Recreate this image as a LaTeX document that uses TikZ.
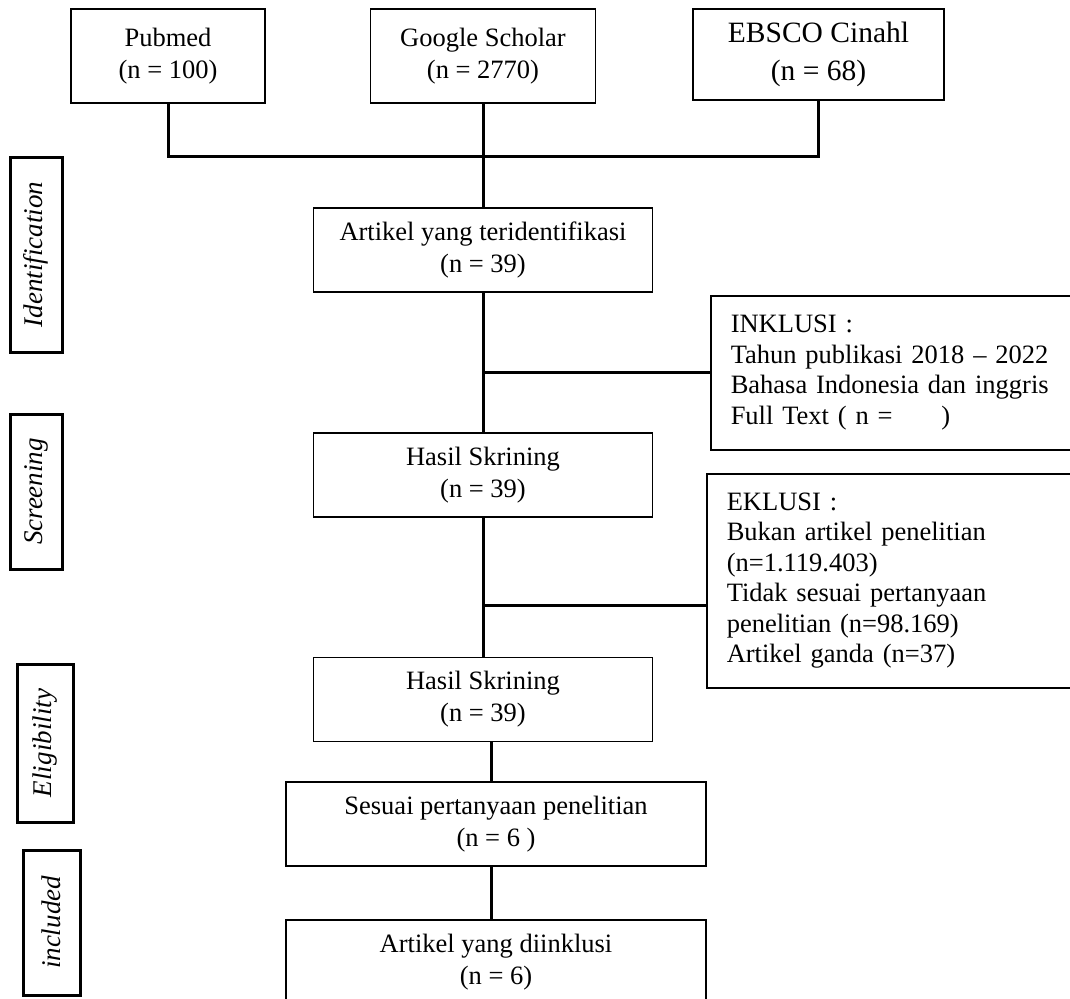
\documentclass[tikz,border=0pt]{standalone}
\usepackage{fontspec}
\setmainfont{Liberation Serif}
\usetikzlibrary{positioning}

\begin{document}
\begin{tikzpicture}[x=1pt,y=-1pt,
	font=\fontsize{26.5}{32}\selectfont,
	box/.style={draw,line width=1.5pt,align=center,inner sep=0pt,minimum height=84pt},
	side/.style={draw,line width=3pt,rotate=90,inner sep=0pt,minimum height=52pt,
		font=\fontsize{27}{32}\selectfont\itshape},
	note/.style={draw,line width=1.5pt,anchor=north west,align=left,inner xsep=20pt,
		text width=330pt,font=\fontsize{26.5}{30.5}\selectfont},
	link/.style={line width=3pt}]
	\useasboundingbox (0,0) rectangle (1070,998);
	% databases
	\node[box,minimum width=194pt,minimum height=94pt] (pubmed) at (168,56) {Pubmed\\(n = 100)};
	\node[box,minimum width=225pt,minimum height=94pt] (google) at (483,56) {Google Scholar\\(n = 2770)};
	\node[box,minimum width=251pt,minimum height=91pt,font=\fontsize{29.5}{38}\selectfont] (ebsco) at (818.5,54.5) {EBSCO Cinahl\\(n = 68)};
	% main column
	\node[box,minimum width=339pt] (ident) at (483,250) {Artikel yang teridentifikasi\\(n = 39)};
	\node[box,minimum width=339pt] (skrin1) at (483,475) {Hasil Skrining\\(n = 39)};
	\node[box,minimum width=339pt] (skrin2) at (483,699.5) {Hasil Skrining\\(n = 39)};
	\node[box,minimum width=420pt] (sesuai) at (496,824) {Sesuai pertanyaan penelitian\\(n = 6 )};
	\node[box,minimum width=420pt] (artikel) at (496,962) {Artikel yang diinklusi\\(n = 6)};
	% criteria
	\node[note,minimum height=154pt] (inklusi) at (710,295) {INKLUSI :\\Tahun publikasi 2018 -- 2022\\Bahasa Indonesia dan inggris\\Full Text ( n = \hspace{40pt})};
	\node[note,minimum height=214pt] (eklusi) at (706,473) {EKLUSI :\\Bukan artikel penelitian\\(n=1.119.403)\\Tidak sesuai pertanyaan\\penelitian (n=98.169)\\Artikel ganda (n=37)};
	% stages
	\node[side,minimum width=195pt] (idlab) at (36,254.5) {Identification};
	\node[side,minimum width=155pt] (sclab) at (36,491.5) {Screening};
	\node[side,minimum width=158pt,minimum height=56pt] (ellab) at (45,743) {Eligibility};
	\node[side,minimum width=145pt,minimum height=57pt] (inlab) at (51.5,922.5) {included};
	% connectors
	\coordinate (join) at (483,156);
	\coordinate (br1) at (483,372);
	\coordinate (br2) at (483,605);
	\coordinate (mid) at (491,0);
	\draw[link] (pubmed.south) |- (join) -| (ebsco.south);
	\draw[link] (google.south) -- (ident.north);
	\draw[link] (ident.south) -- (skrin1.north);
	\draw[link] (skrin1.south) -- (skrin2.north);
	\draw[link] (br1) -- (br1 -| inklusi.west);
	\draw[link] (br2) -- (br2 -| eklusi.west);
	\draw[link] (skrin2.south -| mid) -- (sesuai.north -| mid);
	\draw[link] (sesuai.south -| mid) -- (artikel.north -| mid);
\end{tikzpicture}
\end{document}
